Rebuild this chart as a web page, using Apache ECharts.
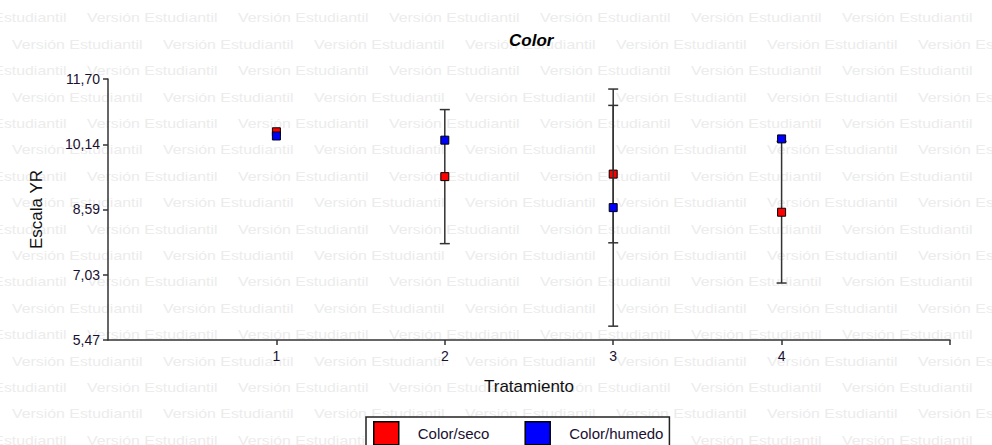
<!DOCTYPE html>
<html>
<head>
<meta charset="utf-8">
<script src="https://cdn.jsdelivr.net/npm/echarts@6/dist/echarts.min.js"></script>
<style>
html,body{margin:0;padding:0;background:#fff;}
#chart{width:992px;height:445px;}
</style>
</head>
<body>
<div id="chart"></div>
<script>
// ---- data ----
var xCategories = ['1', '2', '3', '4'];
var xValues = [1, 2, 3, 4];
var secoValues = [10.44, 9.37, 9.43, 8.52];
var secoErrors = [0, 1.60, 1.64, 1.69];
var humedoValues = [10.34, 10.24, 8.63, 10.27];
var humedoErrors = [0, 0, 2.83, 0];
var yTickLabels = ['5,47', '7,03', '8,59', '10,14', '11,70'];
var seriesNames = ['Color/seco', 'Color/humedo'];
var watermarkText = 'Versión Estudiantil';

var yTickValues = yTickLabels.map(function (s) { return parseFloat(s.replace(',', '.')); });
var yMin = yTickValues[0], yMax = yTickValues[yTickValues.length - 1];

function pts(vals, errs) {
  return xValues.map(function (x, i) { return [x, vals[i], errs[i]]; });
}

function errRender(params, api) {
  var err = api.value(2);
  if (!err) return null;
  var x = api.value(0), y = api.value(1);
  var top = api.coord([x, y + err]);
  var bot = api.coord([x, y - err]);
  var hw = 5;
  var st = { stroke: '#333', lineWidth: 1.5 };
  return {
    type: 'group',
    children: [
      { type: 'line', shape: { x1: top[0], y1: top[1], x2: bot[0], y2: bot[1] }, style: st },
      { type: 'line', shape: { x1: top[0] - hw, y1: top[1], x2: top[0] + hw, y2: top[1] }, style: st },
      { type: 'line', shape: { x1: bot[0] - hw, y1: bot[1], x2: bot[0] + hw, y2: bot[1] }, style: st }
    ]
  };
}

// watermark
var wm = [];
for (var r = 0; r < 17; r++) {
  var y = 18 + 26.4 * r;
  var start = (r % 2 === 0 ? 87 : 12) - 151;
  for (var x = start; x < 992; x += 151) {
    wm.push({
      type: 'text', x: x, y: y, z: -100, scaleX: 1.22, silent: true,
      style: { text: watermarkText, fill: '#ececec', font: '13px "Liberation Sans", Arial, sans-serif', verticalAlign: 'middle', align: 'left' }
    });
  }
}

var chart = echarts.init(document.getElementById('chart'), null, { renderer: 'svg' });
var font = '"Liberation Sans", Arial, sans-serif';
chart.setOption({
  animation: false,
  backgroundColor: '#fff',
  graphic: wm,
  title: {
    text: 'Color', left: 509, top: 32, padding: 0,
    textStyle: { fontFamily: font, fontSize: 17, fontWeight: 'bold', fontStyle: 'italic', color: '#000' }
  },
  grid: { left: 108, right: 42, top: 79, bottom: 105, containLabel: false },
  xAxis: {
    type: 'value', min: 0, max: 5,
    name: 'Tratamiento', nameLocation: 'middle', nameGap: 38,
    nameTextStyle: { fontFamily: font, fontSize: 17, color: '#111' },
    axisLine: { show: true, onZero: false, lineStyle: { color: '#333', width: 1.5 } },
    axisTick: { show: true, length: 5, customValues: [1, 2, 3, 4, 5], lineStyle: { color: '#333', width: 1.5 } },
    axisLabel: {
      fontFamily: font, fontSize: 14, color: '#1a1030', margin: 9,
      customValues: xValues,
      formatter: function (v) { var i = xValues.indexOf(v); return i >= 0 ? xCategories[i] : ''; }
    },
    splitLine: { show: false }
  },
  yAxis: {
    type: 'value', min: yMin, max: yMax,
    name: 'Escala YR', nameLocation: 'middle', nameGap: 63, nameRotate: 90,
    nameTextStyle: { fontFamily: font, fontSize: 17, color: '#111' },
    axisLine: { show: true, onZero: false, lineStyle: { color: '#333', width: 1.5 } },
    axisTick: { show: true, length: 5, customValues: yTickValues, lineStyle: { color: '#333', width: 1.5 } },
    axisLabel: {
      fontFamily: font, fontSize: 14, color: '#1a1030', margin: 8,
      customValues: yTickValues,
      formatter: function (v) {
        var best = 0;
        for (var i = 1; i < yTickValues.length; i++) if (Math.abs(yTickValues[i] - v) < Math.abs(yTickValues[best] - v)) best = i;
        return yTickLabels[best];
      }
    },
    splitLine: { show: false }
  },
  legend: {
    data: seriesNames,
    left: 366, top: 417,
    orient: 'horizontal',
    padding: [4, 6, 4, 7],
    itemGap: 35,
    itemWidth: 25, itemHeight: 23,
    icon: 'rect',
    backgroundColor: '#fff',
    borderColor: '#222', borderWidth: 1.5, borderRadius: 0,
    itemStyle: { borderColor: '#000', borderWidth: 1.5 },
    textStyle: { fontFamily: font, fontSize: 15, color: '#1a1030', padding: [0, 0, 0, 14] }
  },
  series: [
    { type: 'custom', name: 'err-seco', z: 1, renderItem: errRender, data: pts(secoValues, secoErrors), silent: true },
    {
      type: 'scatter', name: seriesNames[0], z: 2, symbol: 'rect', symbolSize: 8,
      itemStyle: { color: '#ff0000', borderColor: '#000', borderWidth: 1, opacity: 1 },
      data: pts(secoValues, secoErrors)
    },
    { type: 'custom', name: 'err-humedo', z: 3, renderItem: errRender, data: pts(humedoValues, humedoErrors), silent: true },
    {
      type: 'scatter', name: seriesNames[1], z: 4, symbol: 'rect', symbolSize: 8,
      itemStyle: { color: '#0000ff', borderColor: '#000', borderWidth: 1, opacity: 1 },
      data: pts(humedoValues, humedoErrors)
    }
  ]
});
</script>
</body>
</html>
